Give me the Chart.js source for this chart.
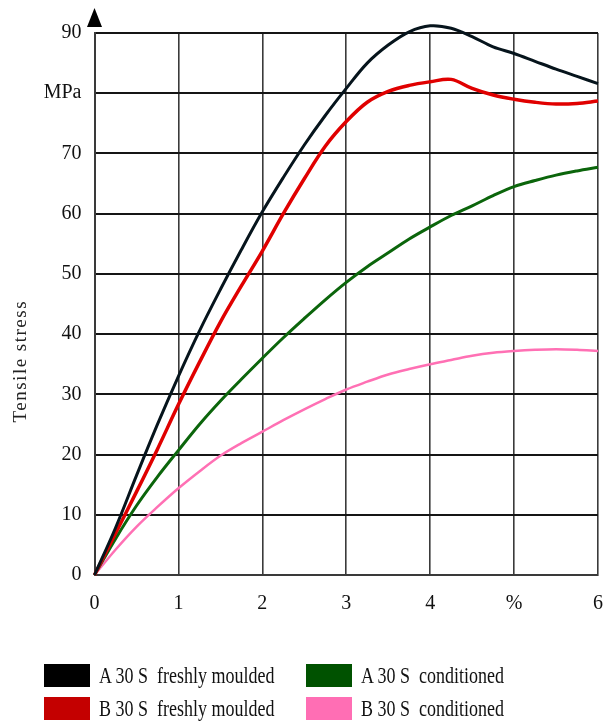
<!DOCTYPE html>
<html>
<head>
<meta charset="utf-8">
<script src="https://cdn.jsdelivr.net/npm/chart.js@4"></script>
<style>
  body { margin: 0; background: #fff; }
  #wrap { position: relative; width: 609px; height: 727px; }
  #legend { position: absolute; left: 44px; top: 664px; font-family: "Liberation Serif", serif; font-size: 18px; color: #111; }
  .row { display: flex; height: 33px; align-items: flex-start; }
  .item { display: flex; align-items: center; width: 262px; }
  .box { width: 46px; height: 23px; margin-right: 9px; }
  .item span { display: inline-block; transform: scaleY(1.3); }
</style>
</head>
<body>
<div id="wrap">
  <canvas id="chart" width="609" height="727"></canvas>
  <div id="legend"></div>
</div>
<script>
// strain (%) and tensile stress (MPa)
const strain = [0, 0.25, 0.5, 0.75, 1, 1.25, 1.5, 1.75, 2, 2.25, 2.5, 2.75, 3,
                3.25, 3.5, 3.75, 4, 4.25, 4.5, 4.75, 5, 5.25, 5.5, 5.75, 6];

const a30Fresh = [0, 7.8, 16.5, 25, 33, 40.5, 47.4, 54, 60.3, 66, 71.4, 76.3, 80.8,
                  85, 88, 90.2, 91.2, 90.8, 89.4, 87.7, 86.6, 85.3, 84, 82.8, 81.6];
const b30Fresh = [0, 6.9, 13.8, 20.9, 28.3, 35.3, 42, 48, 53.8, 60, 65.8, 71.2, 75.3,
                  78.5, 80.3, 81.3, 81.9, 82.3, 80.8, 79.7, 79, 78.5, 78.2, 78.3, 78.7];
const a30Cond = [0, 6, 11.5, 16.3, 20.7, 25, 28.9, 32.5, 36, 39.4, 42.6, 45.7, 48.6,
                 51.2, 53.5, 55.8, 57.8, 59.7, 61.3, 63, 64.5, 65.5, 66.4, 67.1, 67.7];
const b30Cond = [0, 4.2, 8, 11.3, 14.4, 17.2, 19.8, 21.9, 23.8, 25.7, 27.5, 29.2, 30.8,
                 32.1, 33.3, 34.2, 35, 35.7, 36.4, 36.9, 37.2, 37.4, 37.5, 37.4, 37.2];

const seriesNames = ['A 30 S  freshly moulded', 'B 30 S  freshly moulded', 'A 30 S  conditioned', 'B 30 S  conditioned'];
const lineColors = ['#06141c', '#e00000', '#0b650b', '#ff70b4'];
const boxColors = ['#000000', '#c40000', '#005200', '#ff6eb4'];

const xTickLabels = ['0', '1', '2', '3', '4', '%', '6'];
const yTickLabels = ['0', '10', '20', '30', '40', '50', '60', '70', 'MPa', '90'];
const yTitle = 'Tensile stress';

function pts(vals) {
  return vals.map((v, i) => ({ x: strain[i], y: v }));
}

const allSeries = [a30Fresh, b30Fresh, a30Cond, b30Cond];
const widths = [3, 3.5, 3, 2.5];

const datasets = allSeries.map((s, i) => ({
  label: seriesNames[i],
  data: pts(s),
  borderColor: lineColors[i],
  borderWidth: widths[i],
  pointRadius: 0,
  fill: false,
  tension: 0.35,
  clip: false
}));

// arrow on top of the y axis + the rotated axis title (sits lower than centre in the original)
const extrasPlugin = {
  id: 'extras',
  afterDraw(chart) {
    const c = chart.ctx;
    const x = chart.scales.x.getPixelForValue(0);
    const top = chart.chartArea.top;
    c.save();
    c.fillStyle = '#000';
    c.beginPath();
    c.moveTo(x, top - 25);
    c.lineTo(x - 7.5, top - 6);
    c.lineTo(x + 7.5, top - 6);
    c.closePath();
    c.fill();

    c.translate(21, chart.scales.y.getPixelForValue(35.5));
    c.rotate(-Math.PI / 2);
    c.font = '19px "Liberation Serif"';
    c.letterSpacing = '1.5px';
    c.fillStyle = '#222';
    c.textAlign = 'center';
    c.textBaseline = 'middle';
    c.fillText(yTitle, 0, 0);
    c.restore();
  }
};

const tickFont = { family: 'Liberation Serif', size: 20 };

new Chart(document.getElementById('chart'), {
  type: 'line',
  data: { datasets },
  plugins: [extrasPlugin],
  options: {
    responsive: false,
    animation: false,
    layout: { padding: { left: 0, right: 11, top: 33, bottom: 112 } },
    plugins: { legend: { display: false }, tooltip: { enabled: false } },
    scales: {
      x: {
        type: 'linear',
        min: 0, max: 6,
        ticks: {
          stepSize: 1,
          color: '#111',
          font: tickFont,
          padding: 17,
          callback: (v) => xTickLabels[v]
        },
        grid: { color: '#3a3a3a', lineWidth: 1.6, drawTicks: false },
        border: { color: '#3a3a3a', width: 2 },
        afterFit: (s) => { s.height = 40; s.paddingLeft = 0; s.paddingRight = 0; }
      },
      y: {
        min: 0, max: 90,
        ticks: {
          stepSize: 10,
          color: '#111',
          font: tickFont,
          padding: 13,
          callback: (v) => yTickLabels[v / 10]
        },
        grid: { color: '#151515', lineWidth: 2, drawTicks: false },
        border: { color: '#3a3a3a', width: 2 },
        afterFit: (s) => { s.width = 94.5; }
      }
    }
  }
});

// legend: two columns, built from the series names
const legend = document.getElementById('legend');
const order = [[0, 2], [1, 3]];
order.forEach((pair) => {
  const row = document.createElement('div');
  row.className = 'row';
  pair.forEach((i) => {
    const item = document.createElement('div');
    item.className = 'item';
    item.innerHTML = '<div class="box" style="background:' + boxColors[i] + '"></div><span>' + seriesNames[i].replace(/  /g, '&nbsp; ') + '</span>';
    row.appendChild(item);
  });
  legend.appendChild(row);
});
</script>
</body>
</html>
